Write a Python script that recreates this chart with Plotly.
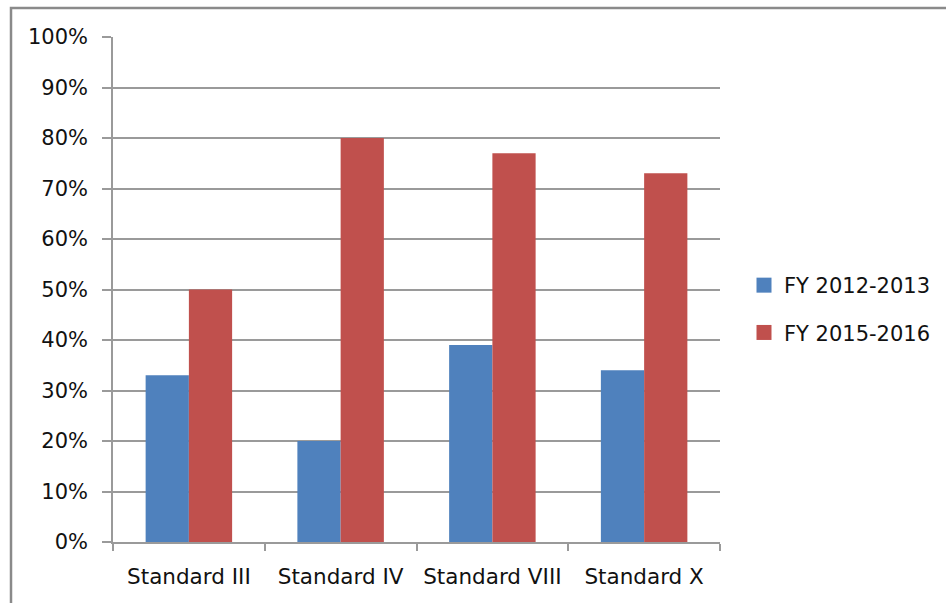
import plotly.graph_objects as go

# Share of reviews meeting each standard, by fiscal year
categories = ["Standard III", "Standard IV", "Standard VIII", "Standard X"]
fy_2012_2013 = [0.33, 0.20, 0.39, 0.34]
fy_2015_2016 = [0.50, 0.80, 0.77, 0.73]
series_names = ["FY 2012-2013", "FY 2015-2016"]
series_colors = ["#4F81BD", "#C0504D"]

FONT = "DejaVu Sans"
GRID = "#9a9a9a"
TXT = "#111111"

W, H = 946, 603
L, R, T, B = 113, 226, 37, 61
pw, ph = W - L - R, H - T - B

fig = go.Figure()
for name, vals, col in zip(series_names, [fy_2012_2013, fy_2015_2016], series_colors):
    fig.add_trace(go.Bar(
        x=categories, y=vals, name=name,
        marker=dict(color=col, line=dict(width=0)),
        showlegend=False,
    ))
    # square legend swatch, one legend group per series for extra spacing
    fig.add_trace(go.Scatter(
        x=[None], y=[None], mode="markers", name=name, legendgroup=name,
        marker=dict(symbol="square", size=15, color=col),
    ))


def px_x(p):
    return (p - L) / pw


def px_y(p):
    return (H - B - p) / ph


fig.update_layout(
    width=W, height=H,
    margin=dict(l=L, r=R, t=T, b=B, pad=0, autoexpand=False),
    paper_bgcolor="white", plot_bgcolor="white",
    barmode="group", bargap=0.43, bargroupgap=0,
    font=dict(family=FONT, size=21, color=TXT),
    legend=dict(
        x=px_x(744), y=px_y(309), xanchor="left", yanchor="middle",
        font=dict(family=FONT, size=21, color=TXT),
        itemsizing="trace", tracegroupgap=17,
        bgcolor="rgba(0,0,0,0)",
    ),
    xaxis=dict(
        type="category", showline=True, linecolor=GRID, linewidth=1.5,
        ticks="outside", tickson="boundaries", ticklen=7, tickcolor=GRID,
        tickwidth=1.5, showgrid=False, zeroline=False,
        tickangle=0, automargin=False, ticklabelstandoff=14,
        tickfont=dict(family=FONT, size=21.5, color=TXT),
    ),
    yaxis=dict(
        range=[0, 1], dtick=0.1, tick0=0, tickformat=".0%",
        showline=True, linecolor=GRID, linewidth=1.5,
        showgrid=True, gridcolor=GRID, gridwidth=1.5, zeroline=False,
        ticks="outside", ticklen=9, tickcolor=GRID, tickwidth=1.5,
        ticklabelstandoff=10, automargin=False,
        tickfont=dict(family=FONT, size=21, color=TXT),
    ),
    shapes=[dict(
        type="rect", xref="paper", yref="paper",
        x0=px_x(11), x1=px_x(960), y0=px_y(620), y1=px_y(8),
        line=dict(color="#8a8a8a", width=2.5), fillcolor="rgba(0,0,0,0)",
        layer="below",
    )],
)

fig.write_html("out.html")
